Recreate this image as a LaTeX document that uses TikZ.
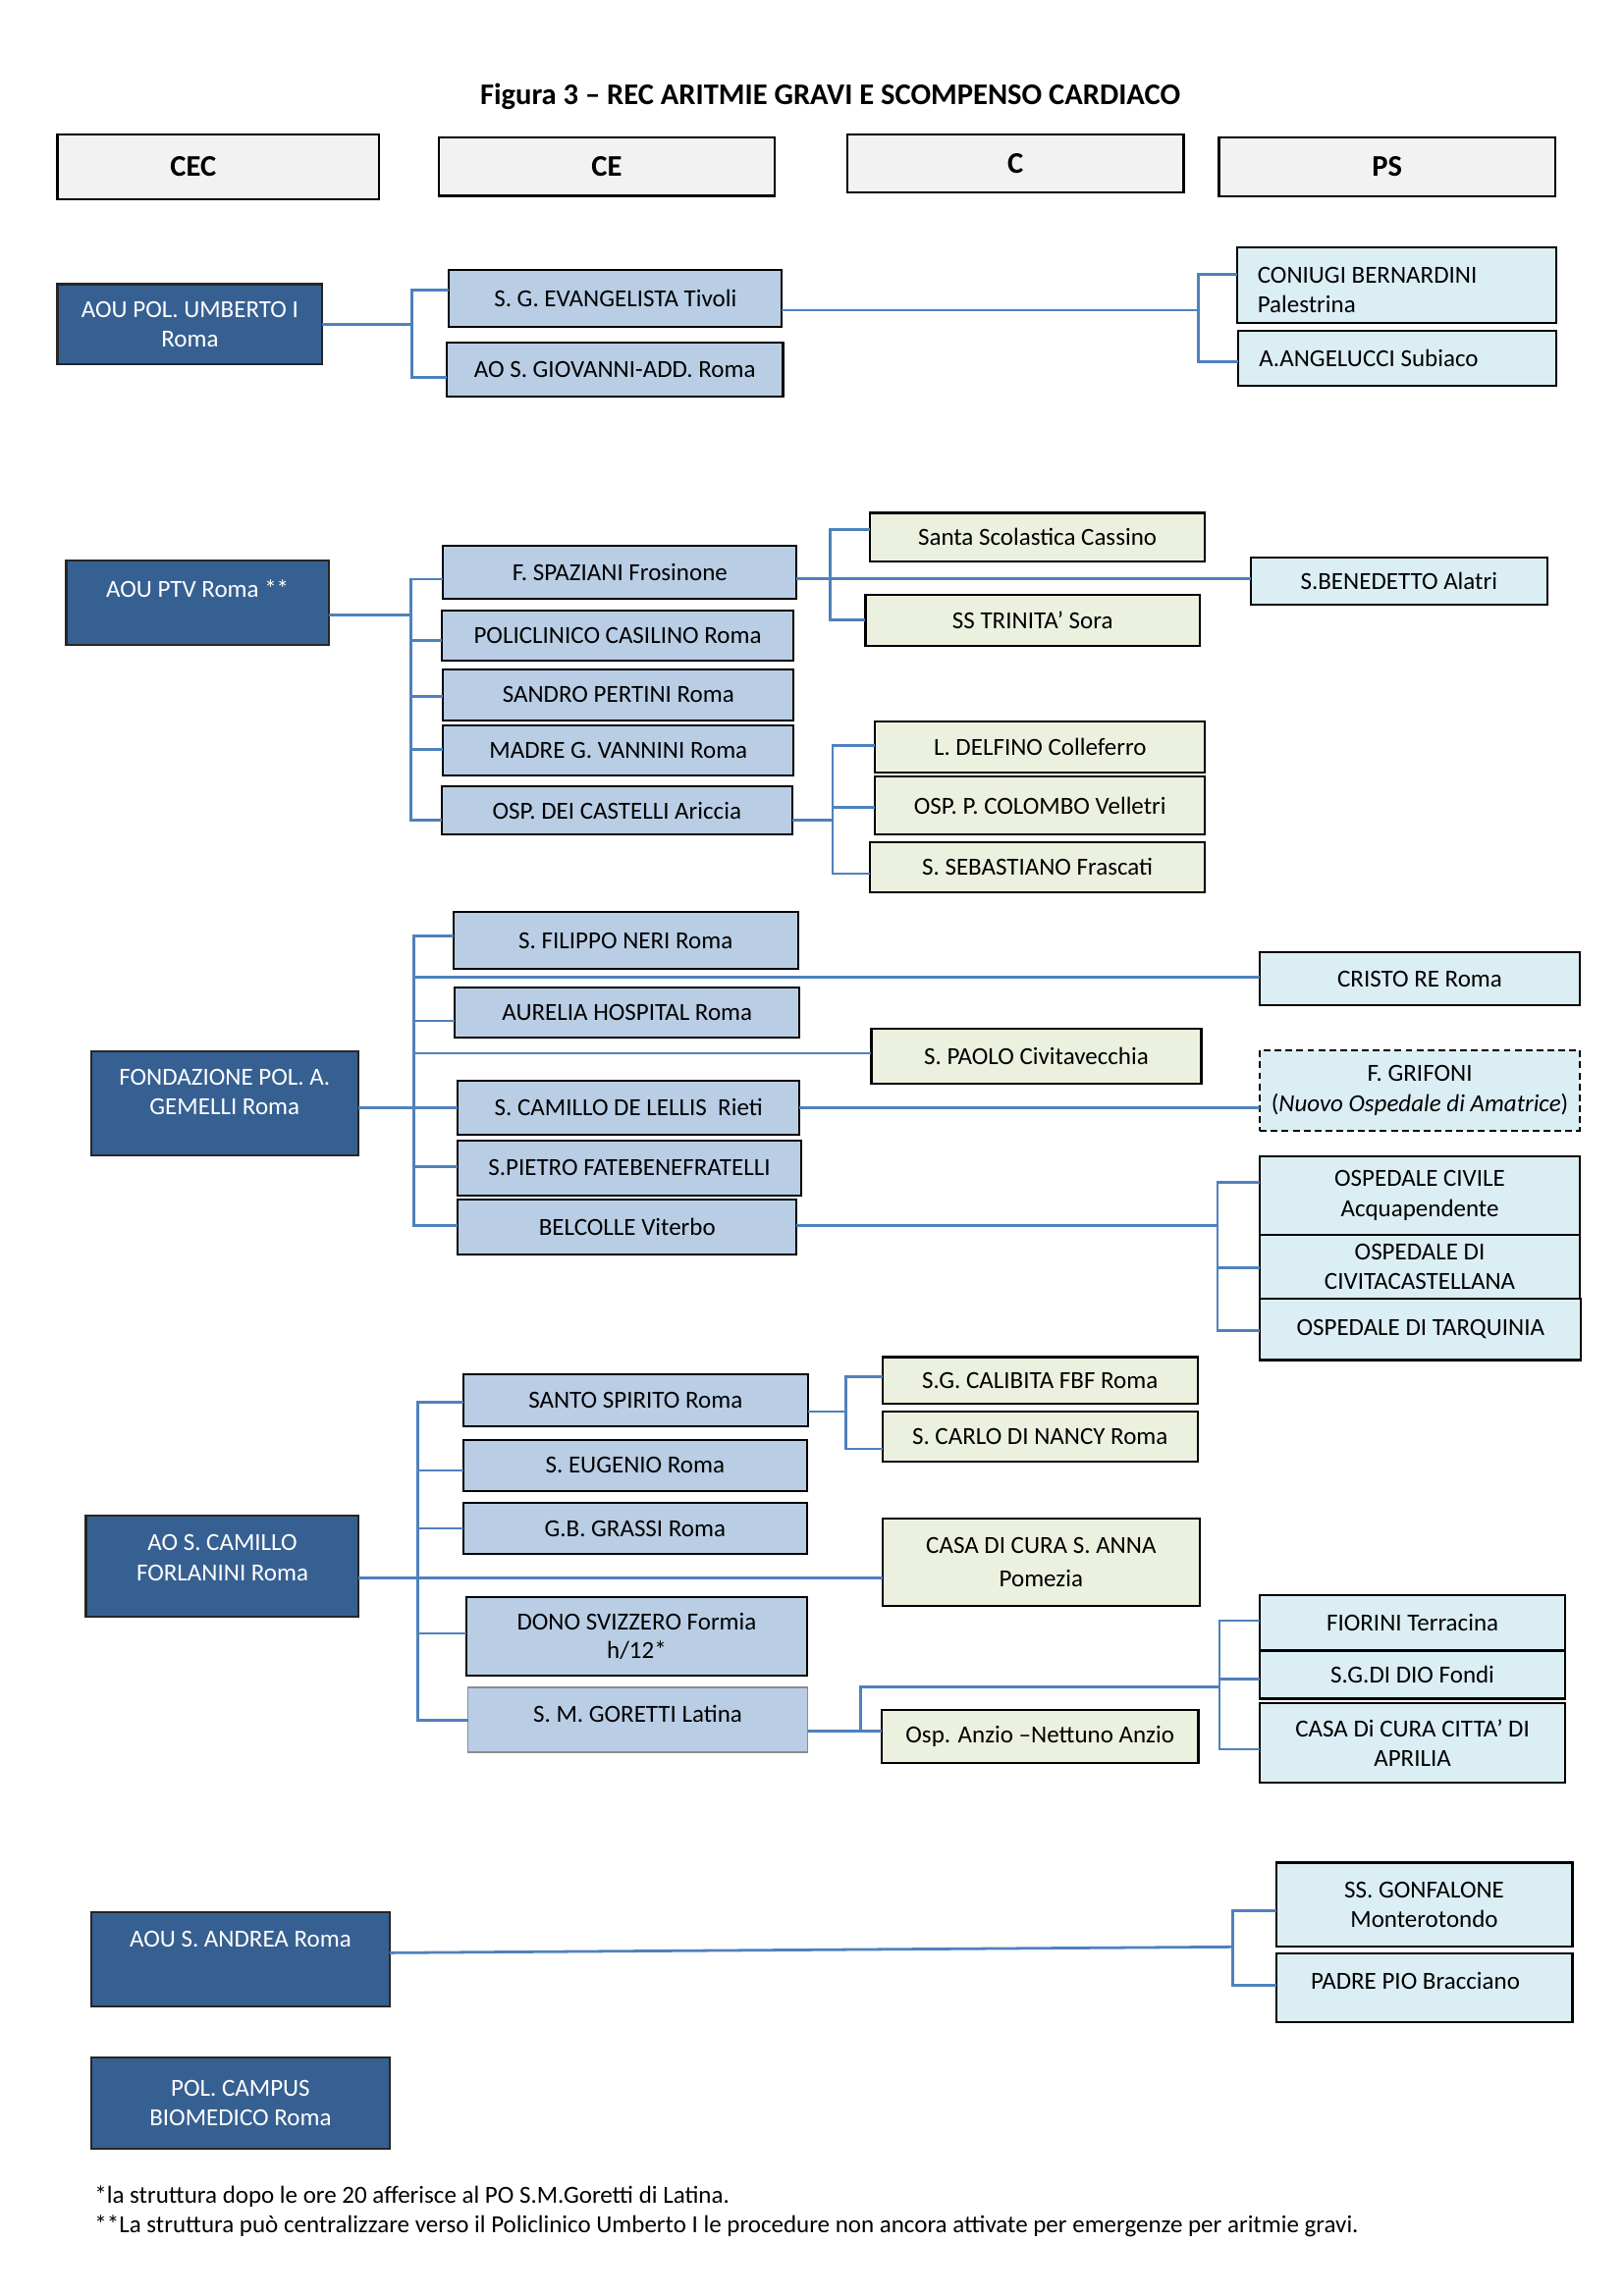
\documentclass[tikz,border=0pt]{standalone}
\usepackage{fontspec}
\setmainfont{Carlito}
\definecolor{rootblue}{HTML}{376092}
\definecolor{ceblue}{HTML}{B9CDE5}
\definecolor{cbeige}{HTML}{EBF1DE}
\definecolor{pscyan}{HTML}{DBEEF4}
\definecolor{hdrgray}{HTML}{F2F2F2}
\definecolor{linkblue}{HTML}{4F81BD}
\tikzset{
  corners/.style n args={4}{minimum width={(#3-#1)*0.53774pt}, minimum height={(#4-#2)*0.5399pt}, at={({(#1+#3)/2},{(#2+#4)/2})}},
  box/.style={inner sep=0pt, outer sep=0pt, align=center, line width=0.8pt, font=\fontsize{9}{11}\selectfont},
  hdr/.style={box, draw=black, fill=hdrgray, font=\fontsize{11}{13}\selectfont\bfseries},
  hdrtxt/.style={inner sep=0pt, font=\fontsize{11}{13}\selectfont\bfseries},
  rootbox/.style={box, draw=black!85, fill=rootblue, text=white},
  roottxt/.style={inner sep=0pt, align=center, text=white, font=\fontsize{9}{11}\selectfont},
  cebox/.style={box, draw=black, fill=ceblue},
  cebox2/.style={box, draw=black!45, line width=0.5pt, fill=ceblue},
  cbox/.style={box, draw=black, fill=cbeige},
  psbox/.style={box, draw=black, fill=pscyan},
  psdash/.style={box, draw=black, fill=pscyan, dash pattern=on 2.5pt off 1.5pt},
  lefttxt/.style={inner sep=0pt, anchor=west, align=left, font=\fontsize{9}{11}\selectfont},
  plaintxt/.style={inner sep=0pt, align=center, font=\fontsize{9}{11}\selectfont},
  conn/.style={draw=linkblue, line width=1pt},
  titletxt/.style={inner sep=0pt, font=\fontsize{11}{13}\selectfont\bfseries},
  foot/.style={inner sep=0pt, anchor=west, font=\fontsize{9}{11}\selectfont}
}
\begin{document}
\begin{tikzpicture}[x=0.53774pt,y=-0.5399pt]
\useasboundingbox (0.8,0) rectangle (1108.2,1559.8);

% title and headers
\node[titletxt] (title) at (567,65.5) {Figura 3 – REC ARITMIE GRAVI E SCOMPENSO CARDIACO};
\node[hdr, corners={40}{91.6}{259}{135.2}] (hCEC) {};
\node[hdrtxt] (tCEC) at (132.6,113.4) {CEC};
\node[hdr, corners={300}{93.4}{529}{133}] (hCE) {CE};
\node[hdr, corners={578.5}{91.6}{808}{130.7}] (hC) {C};
\node[hdr, corners={832}{93.4}{1061.5}{133.4}] (hPS) {PS};

% ---------------- group 1
\node[rootbox, corners={40}{193}{220.6}{247.6}] (umb) {AOU POL. UMBERTO I\\Roma};
\node[cebox, corners={307}{183.4}{534}{222.3}] (evang) {S. G. EVANGELISTA Tivoli};
\node[cebox, corners={305.5}{232.5}{534.7}{269.4}] (giov) {AO S. GIOVANNI-ADD. Roma};
\node[psbox, corners={844.4}{167.8}{1062}{219.6}] (coniugi) {};
\node[lefttxt] (coniugiT) at (858,197) {CONIUGI BERNARDINI\\Palestrina};
\node[psbox, corners={845}{224.5}{1062}{261.9}] (angel) {};
\node[lefttxt] (angelT) at (859,243.2) {A.ANGELUCCI Subiaco};

\coordinate (g1t) at (281.5,197);
\coordinate (g1r) at (281.5,220.3);
\coordinate (g1b) at (281.5,256.3);
\draw[conn] (umb.east) -- (g1r);
\draw[conn] (g1t -| evang.west) -- (g1t) -- (g1b) -- (g1b -| giov.west);
\coordinate (p1t) at (818,186.3);
\coordinate (p1m) at (818,210.7);
\coordinate (p1b) at (818,245.6);
\draw[conn] (p1m -| evang.east) -- (p1m);
\draw[conn] (p1t -| coniugi.west) -- (p1t) -- (p1b) -- (p1b -| angel.west);

% ---------------- group 2
\node[rootbox, corners={46}{381}{225}{438}] (ptv) {};
\node[roottxt] (ptvT) at (135.5,399.6) {AOU PTV Roma **};
\node[cebox, corners={303}{370.8}{544}{406.8}] (spaz) {F. SPAZIANI Frosinone};
\node[cebox, corners={302}{415}{542}{449}] (casil) {POLICLINICO CASILINO Roma};
\node[cebox, corners={303}{454.6}{542}{489.5}] (pert) {SANDRO PERTINI Roma};
\node[cebox, corners={303}{492.6}{542}{526.8}] (vann) {MADRE G. VANNINI Roma};
\node[cebox, corners={302}{534}{541}{567}] (cast) {OSP. DEI CASTELLI Ariccia};
\node[cbox, corners={594}{348.5}{822.5}{381.4}] (scol) {Santa Scolastica Cassino};
\node[cbox, corners={591}{404}{819}{438.8}] (trin) {SS TRINITA’ Sora};
\node[psbox, corners={853.6}{378.8}{1056}{410.8}] (bene) {S.BENEDETTO Alatri};
\node[cbox, corners={597.6}{490}{822.5}{525}] (delf) {L. DELFINO Colleferro};
\node[cbox, corners={597.6}{527.5}{822.5}{567}] (colo) {OSP. P. COLOMBO Velletri};
\node[cbox, corners={594}{572}{822.5}{606}] (seba) {S. SEBASTIANO Frascati};

\coordinate (g2t) at (281,393.4);
\coordinate (g2r) at (281,418);
\coordinate (g2a) at (281,435);
\coordinate (g2c) at (281,473);
\coordinate (g2d) at (281,509);
\coordinate (g2b) at (281,557.3);
\draw[conn] (g2r -| ptv.east) -- (g2r);
\draw[conn] (g2t -| spaz.west) -- (g2t) -- (g2b) -- (g2b -| cast.west);
\draw[conn] (g2a) -- (g2a -| casil.west);
\draw[conn] (g2c) -- (g2c -| pert.west);
\draw[conn] (g2d) -- (g2d -| vann.west);
\coordinate (h2) at (567,393);
\coordinate (h2t) at (567,360);
\coordinate (h2b) at (567,421.2);
\draw[conn] (h2 -| spaz.east) -- (h2 -| bene.west);
\draw[conn] (h2t -| scol.west) -- (h2t) -- (h2b) -- (h2b -| trin.west);
\coordinate (k2) at (568.6,557);
\coordinate (k2t) at (568.6,506.6);
\coordinate (k2m) at (568.6,548.4);
\coordinate (k2b) at (568.6,593.5);
\draw[conn] (k2 -| cast.east) -- (k2);
\draw[conn] (k2t -| delf.west) -- (k2t) -- (k2b) -- (k2b -| seba.west);
\draw[conn] (k2m) -- (k2m -| colo.west);

% ---------------- group 3
\node[rootbox, corners={63}{714}{245}{785}] (gem) {};
\node[roottxt] (gemT) at (154,742) {FONDAZIONE POL. A.\\GEMELLI Roma};
\node[cebox, corners={310}{619.7}{545}{658}] (fil) {S. FILIPPO NERI Roma};
\node[psbox, corners={860}{646.8}{1078}{682.9}] (cri) {CRISTO RE Roma};
\node[cebox, corners={311}{671}{546}{705}] (aur) {AURELIA HOSPITAL Roma};
\node[cbox, corners={595}{699}{820}{736}] (spa) {S. PAOLO Civitavecchia};
\node[psdash, corners={860}{713.5}{1078}{768}] (gri) {F. GRIFONI\\(\textit{Nuovo Ospedale di Amatrice})};
\node[cebox, corners={313}{734}{546}{771}] (cam) {S. CAMILLO DE LELLIS\ \ Rieti};
\node[cebox, corners={313}{775}{547}{812}] (pie) {S.PIETRO FATEBENEFRATELLI};
\node[cebox, corners={313}{815}{544}{852}] (bel) {BELCOLLE Viterbo};
\node[psbox, corners={860}{785.4}{1078}{839}] (civ) {OSPEDALE CIVILE\\Acquapendente};
\node[psbox, corners={860}{839}{1078}{882}] (cvc) {OSPEDALE DI\\CIVITACASTELLANA};
\node[psbox, corners={860}{882}{1079}{924}] (tar) {OSPEDALE DI TARQUINIA};

\coordinate (g3t) at (283,635.7);
\coordinate (g3c) at (283,664);
\coordinate (g3a) at (283,693.5);
\coordinate (g3p) at (283,715.5);
\coordinate (g3e) at (283,792.7);
\coordinate (g3b) at (283,832.5);
\draw[conn] (g3t -| fil.west) -- (g3t) -- (g3b) -- (g3b -| bel.west);
\draw[conn] (g3c) -- (g3c -| cri.west);
\draw[conn] (g3a) -- (g3a -| aur.west);
\draw[conn] (g3p) -- (g3p -| spa.west);
\draw[conn] (g3e) -- (g3e -| pie.west);
\draw[conn] (gem.east |- cam.west) -- (cam.west);
\draw[conn] (cam.east) -- (cam.east -| gri.west);
\coordinate (q3) at (831,832.5);
\coordinate (q3t) at (831,803);
\coordinate (q3m) at (831,861);
\coordinate (q3b) at (831,904);
\draw[conn] (q3 -| bel.east) -- (q3);
\draw[conn] (q3t -| civ.west) -- (q3t) -- (q3b) -- (q3b -| tar.west);
\draw[conn] (q3m) -- (q3m -| cvc.west);

% ---------------- group 4
\node[rootbox, corners={59.4}{1029.8}{245.4}{1098.5}] (forl) {};
\node[roottxt] (forlT) at (152.5,1058.4) {AO S. CAMILLO\\FORLANINI Roma};
\node[cebox, corners={316.8}{933.6}{551.6}{969}] (ssp) {SANTO SPIRITO Roma};
\node[cebox, corners={316.8}{978.5}{551}{1012.7}] (eug) {S. EUGENIO Roma};
\node[cebox, corners={316.8}{1021}{551}{1055.8}] (gbg) {G.B. GRASSI Roma};
\node[cebox, corners={319}{1085}{551}{1138.3}, font=\fontsize{9}{10.4}\selectfont] (don) {DONO SVIZZERO Formia\\h/12*};
\node[cebox2, corners={320}{1146.3}{551.6}{1190.3}] (gor) {};
\node[plaintxt] (gorT) at (435.7,1164) {S. M. GORETTI Latina};
\node[cbox, corners={602.5}{922}{817.5}{953.6}] (cal) {S.G. CALIBITA FBF Roma};
\node[cbox, corners={602.5}{959}{817.5}{992.7}] (nan) {S. CARLO DI NANCY Roma};
\node[cbox, corners={602.5}{1031.8}{819}{1091}, font=\fontsize{9}{12.4}\selectfont] (ann) {CASA DI CURA S. ANNA\\Pomezia};
\node[cbox, corners={602}{1161.7}{818}{1197.6}] (anz) {Osp. Anzio –Nettuno Anzio};
\node[psbox, corners={860}{1083.6}{1068}{1120.8}] (fio) {FIORINI Terracina};
\node[psbox, corners={860}{1121.4}{1068}{1154}] (sgd) {S.G.DI DIO Fondi};
\node[psbox, corners={860}{1157.2}{1068}{1210.8}] (apr) {CASA Di CURA CITTA’ DI\\APRILIA};

\coordinate (g4t) at (285.7,952.5);
\coordinate (g4a) at (285.7,999);
\coordinate (g4c) at (285.7,1038.3);
\coordinate (g4r) at (285.7,1071.8);
\coordinate (g4d) at (285.7,1109.6);
\coordinate (g4b) at (285.7,1168.7);
\draw[conn] (g4t -| ssp.west) -- (g4t) -- (g4b) -- (g4b -| gor.west);
\draw[conn] (g4a) -- (g4a -| eug.west);
\draw[conn] (g4c) -- (g4c -| gbg.west);
\draw[conn] (g4d) -- (g4d -| don.west);
\draw[conn] (g4r -| forl.east) -- (g4r -| ann.west);
\coordinate (s4) at (577.8,959);
\coordinate (s4t) at (577.8,935.4);
\coordinate (s4b) at (577.8,984.3);
\draw[conn] (s4 -| ssp.east) -- (s4);
\draw[conn] (s4t -| cal.west) -- (s4t) -- (s4b) -- (s4b -| nan.west);
\coordinate (t4) at (587.7,1175.9);
\coordinate (t4u) at (587.7,1146);
\coordinate (u4) at (832.4,1146);
\coordinate (u4t) at (832.4,1101);
\coordinate (u4m) at (832.4,1140.7);
\coordinate (u4b) at (832.4,1188.3);
\draw[conn] (t4 -| gor.east) -- (t4 -| anz.west);
\draw[conn] (t4) -- (t4u) -- (u4);
\draw[conn] (u4t -| fio.west) -- (u4t) -- (u4b) -- (u4b -| apr.west);
\draw[conn] (u4m) -- (u4m -| sgd.west);

% ---------------- group 5
\node[rootbox, corners={63}{1298.8}{266.6}{1363}] (andr) {};
\node[roottxt] (andrT) at (164.8,1317.7) {AOU S. ANDREA Roma};
\node[rootbox, corners={63}{1397.5}{266.6}{1460}] (cbm) {POL. CAMPUS\\BIOMEDICO Roma};
\node[psbox, corners={871}{1265.4}{1073}{1322.4}] (gon) {SS. GONFALONE\\Monterotondo};
\node[psbox, corners={871}{1326.8}{1073}{1373.7}] (pio) {};
\node[plaintxt] (pioT) at (966,1345.7) {PADRE PIO Bracciano};

\coordinate (v5) at (841.6,1322.6);
\coordinate (v5t) at (841.6,1298);
\coordinate (v5b) at (841.6,1348.8);
\draw[conn] ([yshift=2.3pt]andr.east) -- (v5);
\draw[conn] (v5t -| gon.west) -- (v5t) -- (v5b) -- (v5b -| pio.west);

% footnotes
\node[foot] (fn1) at (65,1492.4) {*la struttura dopo le ore 20 afferisce al PO S.M.Goretti di Latina.};
\node[foot] (fn2) at (65,1512.6) {**La struttura può centralizzare verso il Policlinico Umberto I le procedure non ancora attivate per emergenze per aritmie gravi.};
\end{tikzpicture}
\end{document}
